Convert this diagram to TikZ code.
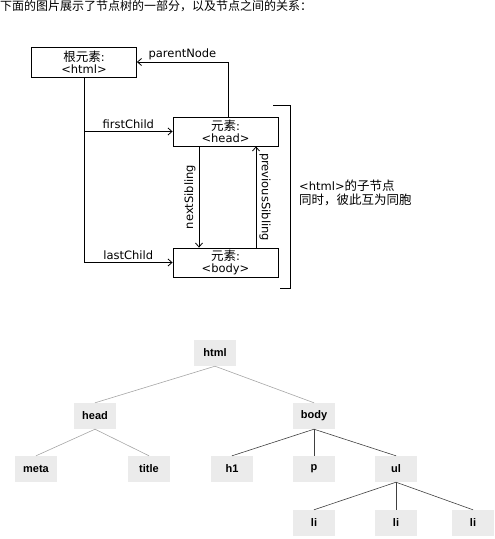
\documentclass[tikz,border=0pt]{standalone}
\usepackage{fontspec}
\setmainfont{DejaVu Sans}
\newfontfamily\cjk{Noto Sans CJK SC}
\newfontfamily\treefont{Liberation Sans}
\usetikzlibrary{arrows.meta}
\begin{document}
\begin{tikzpicture}[x=1pt,y=-1pt,
  elbox/.style={draw=black,line width=0.8pt,minimum width=105pt,minimum height=29pt,inner sep=0pt,align=center,font=\fontsize{11.5}{12.5}\selectfont},
  arr/.style={line width=0.8pt,-{Straight Barb[length=4pt,width=7pt]}},
  lbl/.style={font=\fontsize{11.5}{12.5}\selectfont,inner sep=1pt},
  tnode/.style={fill=black!8,minimum width=42pt,minimum height=26pt,inner sep=0pt,font=\treefont\bfseries\fontsize{11}{12}\selectfont},
  ledge/.style={draw=black!35,line width=0.6pt},
  dedge/.style={draw=black!75,line width=0.6pt}]
\useasboundingbox (0,0) rectangle (495,539);
% title
\node[anchor=west,inner sep=0pt,font=\cjk\fontsize{12}{14}\selectfont] (title) at (0,6) {下面的图片展示了节点树的一部分，以及节点之间的关系：};
% boxes
\node[elbox,minimum height=30pt] (root) at (84,62) {{\cjk\fontsize{12.5}{12.5}\selectfont 根元素}:\\<html>};
\node[elbox] (head) at (225.5,131.5) {{\cjk\fontsize{12.5}{12.5}\selectfont 元素}:\\<head>};
\node[elbox] (body) at (225.5,262.5) {{\cjk\fontsize{12.5}{12.5}\selectfont 元素}:\\<body>};
% connectors
\draw[arr] ([xshift=2.5pt]head.north) |- (root.east) node[lbl,pos=0.75,above=1pt] {parentNode};
\draw[arr] (root.south) |- (body.west) node[lbl,pos=0.75,above=1pt] {lastChild};
\draw[arr] (root.south |- head.west) -- (head.west) node[lbl,midway,above=1pt] {firstChild};
\draw[arr] ([xshift=-26.5pt]head.south) -- ([xshift=-26.5pt]body.north) node[lbl,midway,rotate=90,anchor=south,inner sep=3pt] {nextSibling};
\draw[arr] ([xshift=30.5pt]body.north) -- ([xshift=30.5pt]head.south) node[lbl,midway,rotate=-90,anchor=south,inner sep=3pt] {previousSibling};
% bracket
\coordinate (bt) at (273,105);
\coordinate (bb) at (280,288);
\draw[line width=0.8pt] (bt) -- (290,105) -- (290,288) -- (bb);
\node[anchor=west,align=left,inner sep=0pt,font=\fontsize{11.5}{14}\selectfont] (note) at (299,193) {<html>{\cjk\fontsize{12.5}{14}\selectfont 的子节点}\\{\cjk\fontsize{12.5}{14}\selectfont 同时，彼此互为同胞}};
% tree
\node[tnode] (html) at (215,353) {html};
\node[tnode] (thead) at (95,416) {head};
\node[tnode] (tbody) at (314,416) {body};
\node[tnode] (meta) at (36,469) {meta};
\node[tnode] (ttitle) at (149,469) {title};
\node[tnode] (h1) at (232,469) {h1};
\node[tnode] (p) at (314,469) {p};
\node[tnode] (ul) at (396,469) {ul};
\node[tnode] (li1) at (314,523) {li};
\node[tnode] (li2) at (396,523) {li};
\node[tnode] (li3) at (473,523) {li};
\draw[ledge] (html.south) -- (thead.north);
\draw[ledge] (html.south) -- (tbody.north);
\draw[ledge] (thead.south) -- (meta.north);
\draw[ledge] (thead.south) -- (ttitle.north);
\draw[dedge] (tbody.south) -- (h1.north);
\draw[dedge] (tbody.south) -- (p.north);
\draw[dedge] (tbody.south) -- (ul.north);
\draw[dedge] (ul.south) -- (li1.north);
\draw[dedge] (ul.south) -- (li2.north);
\draw[dedge] (ul.south) -- (li3.north);
\end{tikzpicture}
\end{document}
